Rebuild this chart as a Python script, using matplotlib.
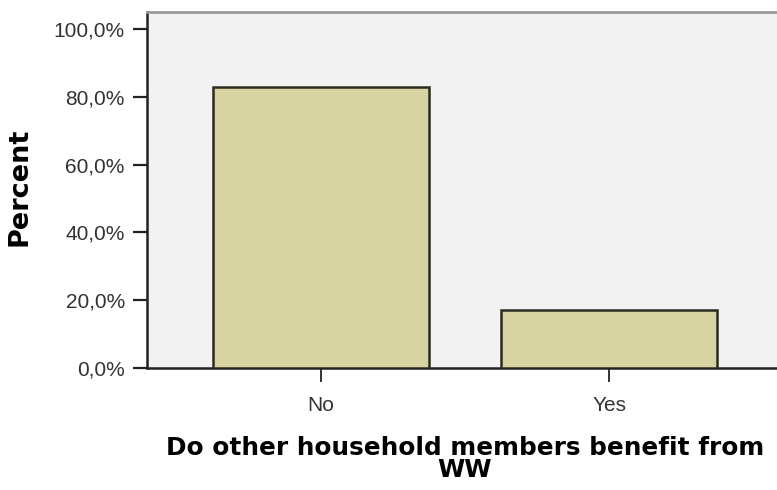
import matplotlib.pyplot as plt
from matplotlib.ticker import FuncFormatter

plt.rcParams['font.family'] = ['Liberation Sans', 'DejaVu Sans']

# data
categories = ['No', 'Yes']
percent = [83.0, 17.0]
y_ticks = [0, 20, 40, 60, 80, 100]

fig = plt.figure(figsize=(7.77, 4.9), dpi=100)
ax = fig.add_axes([147 / 777, 122 / 490, 1 - 147 / 777, (368 - 12) / 490])
ax.set_facecolor('#f2f2f2')

x = list(range(len(categories)))
ax.bar(x, percent, width=0.75, color='#d7d3a3', edgecolor='#2b2b20', linewidth=1.8, zorder=3)

ax.set_xlim(-0.604, 1.583)
ax.set_ylim(0, 105)
ax.set_xticks(x)
ax.set_xticklabels(categories)
ax.set_yticks(y_ticks)
ax.yaxis.set_major_formatter(FuncFormatter(lambda v, p: f'{v:.1f}%'.replace('.', ',')))

ax.tick_params(axis='both', labelsize=15, labelcolor='#333333', color='#222222',
               length=10, width=1.6, pad=6)
ax.tick_params(axis='x', width=1.3, length=10, pad=10)

for side in ['left', 'bottom']:
    ax.spines[side].set_color('#222222')
    ax.spines[side].set_linewidth(1.8)
ax.spines['top'].set_color('#999999')
ax.spines['top'].set_linewidth(2)
ax.spines['right'].set_visible(False)

fig.text(20 / 777, 1 - 187 / 490, 'Percent', rotation=90, ha='center', va='center',
         fontsize=19.5, fontweight='bold', family='DejaVu Sans')
fig.text(465 / 777, 1 - 459 / 490, 'Do other household members benefit from\nWW',
         ha='center', va='center', fontsize=17.8, fontweight='bold', family='DejaVu Sans',
         linespacing=0.85)

fig.savefig('out.png', dpi=100)
